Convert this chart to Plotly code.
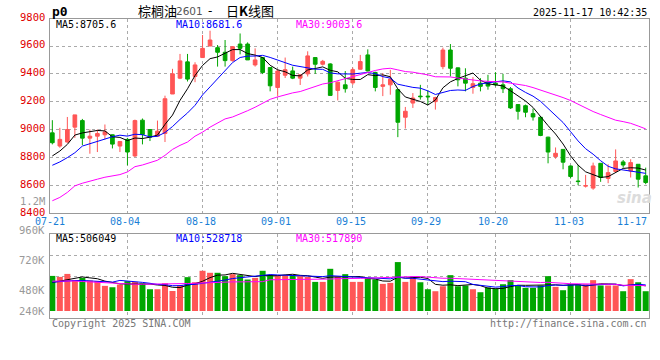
import plotly.graph_objects as go

# ---------------- data ----------------
dates = ["07-21", "07-22", "07-23", "07-24", "07-25", "07-28", "07-29", "07-30", "07-31",
         "08-01", "08-04", "08-05", "08-06", "08-07", "08-08", "08-11", "08-12", "08-13", "08-14", "08-15",
         "08-18", "08-19", "08-20", "08-21", "08-22", "08-25", "08-26", "08-27", "08-28", "08-29",
         "09-01", "09-02", "09-03", "09-04", "09-05", "09-08", "09-09", "09-10", "09-11", "09-12",
         "09-15", "09-16", "09-17", "09-18", "09-19", "09-22", "09-23", "09-24", "09-25", "09-26",
         "09-29", "09-30", "10-09", "10-10", "10-13", "10-14", "10-15", "10-16", "10-17",
         "10-20", "10-21", "10-22", "10-23", "10-24", "10-27", "10-28", "10-29", "10-30", "10-31",
         "11-03", "11-04", "11-05", "11-06", "11-07", "11-10", "11-11", "11-12", "11-13", "11-14", "11-17"]

opens = [8976, 8881, 8910, 9017, 9064, 8938, 8952, 8962, 8962, 8881,
         8929, 8810, 9067, 9000, 8952, 8971, 9255, 9369, 9486, 9381,
         9517, 9600, 9588, 9555, 9495, 9614, 9614, 9464, 9517, 9445,
         9302, 9390, 9421, 9369, 9400, 9517, 9469, 9471, 9281, 9321,
         9335, 9433, 9536, 9410, 9310, 9321, 9286, 9088, 9190, 9240,
         9240, 9200, 9452, 9571, 9443, 9369, 9302, 9333, 9340,
         9333, 9321, 9293, 9179, 9171, 9114, 9088, 8945, 8805, 8857,
         8738, 8630, 8593, 8579, 8757, 8648, 8698, 8767, 8702, 8750, 8667]
highs = [9067, 9012, 9090, 9105, 9076, 9000, 9000, 9036, 8964, 8914,
         8940, 9071, 9079, 9000, 9064, 9243, 9436, 9543, 9543, 9483,
         9679, 9710, 9607, 9643, 9600, 9690, 9626, 9583, 9517, 9445,
         9433, 9517, 9452, 9398, 9562, 9517, 9500, 9476, 9345, 9420,
         9445, 9536, 9576, 9415, 9405, 9429, 9290, 9162, 9262, 9321,
         9281, 9235, 9588, 9614, 9445, 9440, 9376, 9369, 9393,
         9412, 9400, 9305, 9179, 9179, 9150, 9088, 8948, 8871, 8857,
         8740, 8745, 8674, 8762, 8757, 8750, 8857, 8781, 8786, 8750, 8726]
lows = [8893, 8869, 8905, 8940, 8888, 8826, 8838, 8929, 8864, 8838,
        8743, 8802, 8893, 8917, 8948, 8910, 9255, 9362, 9345, 9340,
        9517, 9600, 9452, 9452, 9488, 9540, 9500, 9452, 9398, 9274,
        9238, 9370, 9362, 9320, 9381, 9400, 9460, 9245, 9209, 9265,
        9320, 9430, 9417, 9274, 9240, 9250, 8945, 9007, 9155, 9215,
        9180, 9143, 9433, 9381, 9310, 9274, 9257, 9274, 9286,
        9310, 9262, 9148, 9071, 9088, 9064, 8952, 8757, 8790, 8714,
        8648, 8600, 8583, 8567, 8624, 8614, 8698, 8726, 8655, 8583, 8607]
closes = [8905, 8929, 9000, 9105, 8938, 8952, 8971, 8983, 8895, 8914,
          8838, 9064, 8964, 8945, 8988, 9221, 9400, 9493, 9362, 9464,
          9583, 9643, 9555, 9495, 9595, 9583, 9500, 9500, 9410, 9314,
          9420, 9430, 9369, 9393, 9529, 9469, 9490, 9245, 9340, 9293,
          9430, 9488, 9421, 9302, 9321, 9362, 9052, 9131, 9226, 9236,
          9235, 9230, 9571, 9440, 9357, 9333, 9329, 9310, 9312,
          9321, 9293, 9155, 9131, 9124, 9090, 8957, 8838, 8829, 8765,
          8662, 8626, 8597, 8738, 8655, 8690, 8774, 8745, 8762, 8643, 8619]
volumes = [595000, 587000, 611000, 561000, 579000, 558000, 553000, 515000, 504000, 526000,
           553000, 547000, 534000, 488000, 488000, 536000, 474000, 520000, 585000, 544000,
           636000, 620000, 620000, 593000, 609000, 601000, 566000, 579000, 636000, 601000,
           601000, 601000, 601000, 593000, 587000, 547000, 547000, 652000, 593000, 609000,
           547000, 547000, 579000, 566000, 531000, 539000, 706000, 547000, 585000, 544000,
           488000, 472000, 512000, 601000, 512000, 518000, 488000, 464000, 502000,
           491000, 528000, 561000, 518000, 499000, 499000, 518000, 593000, 507000, 480000,
           526000, 526000, 528000, 561000, 518000, 518000, 518000, 472000, 569000, 544000, 472000]

# moving-average values before enough in-window history exists
ma5_head = [8810, 8845, 8893, 8960]
ma10_head = [8743, 8767, 8798, 8833, 8881, 8898, 8917, 8929, 8948]
ma30_head = [8488, 8512, 8548, 8595, 8614, 8631, 8643, 8657, 8667, 8676,
             8695, 8733, 8745, 8762, 8779, 8814, 8857, 8886, 8910, 8952,
             8981, 9017, 9048, 9076, 9090, 9110, 9135, 9160, 9190]
vma5_head = [542000, 553000, 569000, 574000]
vma10_head = [545000, 550000, 555000, 558000, 558000, 556000, 553000, 548000, 545000]
vma30_head = [553000, 555000, 558000, 554000, 550000, 547000, 542000, 536000, 534000, 532000,
              529000, 528000, 528000, 528000, 528000, 528000, 529000, 531000, 534000, 536000,
              539000, 542000, 545000, 546000, 547000, 547000, 547000, 547000, 549000]

price_ticks = [8400, 8600, 8800, 9000, 9200, 9400, 9600, 9800]
vol_ticks = [1200000, 960000, 720000, 480000, 240000]
vol_tick_text = ["1.2M", "960K", "720K", "480K", "240K"]
date_ticks = ["07-21", "08-04", "08-18", "09-01", "09-15", "09-29", "10-20", "11-03", "11-17"]

ma_labels = ["MA5:8705.6", "MA10:8681.6", "MA30:9003.6"]
vma_labels = ["MA5:506049", "MA10:528718", "MA30:517890"]

# ---------------- helpers ----------------
def rolling(vals, n, head):
    out = list(head)
    for i in range(len(head), len(vals)):
        w = vals[i - n + 1:i + 1]
        out.append(sum(w) / n)
    return out

ma5 = rolling(closes, 5, ma5_head)
ma10 = rolling(closes, 10, ma10_head)
ma30 = rolling(closes, 30, ma30_head)
vma5 = rolling(volumes, 5, vma5_head)
vma10 = rolling(volumes, 10, vma10_head)
vma30 = rolling(volumes, 30, vma30_head)

RED = "#FF5656"
GREEN = "#00A600"
MONO = "DejaVu Sans Mono"
W, H = 660, 360
ML, MR, MT, MB = 50, 11, 19, 42
PW, PH = W - ML - MR, H - MT - MB


def px(x, y):
    return (x - ML) / PW, (H - MB - y) / PH

VOL_BASE = 313000
VOL_RANGE = [257000, 929000]
PRICE_RANGE = [8400, 9794]
X_RANGE = [-0.31, len(dates) - 1 + 0.44]

y_split = (H - MB - 213) / PH
v_top = (H - MB - 234.3) / PH
PRICE_DOMAIN = [y_split, 1]
VOL_DOMAIN = [0, v_top]


def to_paper(v, rng, dom):
    return dom[0] + (v - rng[0]) / (rng[1] - rng[0]) * (dom[1] - dom[0])

fig = go.Figure()
fig.add_trace(go.Candlestick(
    x=dates, open=opens, high=highs, low=lows, close=closes,
    increasing=dict(line=dict(color=RED, width=1), fillcolor=RED),
    decreasing=dict(line=dict(color=GREEN, width=1), fillcolor=GREEN),
    whiskerwidth=0, hoverinfo="skip", xaxis="x", yaxis="y", showlegend=False))
for vals, col in [(ma5, "black"), (ma10, "#0000FF"), (ma30, "#FF00FF")]:
    fig.add_trace(go.Scatter(x=dates, y=vals, mode="lines", line=dict(color=col, width=1),
                             hoverinfo="skip", xaxis="x", yaxis="y", showlegend=False))

bar_colors = [RED if c >= o else GREEN for o, c in zip(opens, closes)]
fig.add_trace(go.Bar(x=dates, y=[v - VOL_BASE for v in volumes], base=VOL_BASE,
                     marker=dict(color=bar_colors, line=dict(width=0)), width=0.8,
                     hoverinfo="skip", xaxis="x2", yaxis="y2", showlegend=False))
for vals, col in [(vma5, "black"), (vma10, "#0000FF"), (vma30, "#FF00FF")]:
    fig.add_trace(go.Scatter(x=dates, y=vals, mode="lines", line=dict(color=col, width=1),
                             hoverinfo="skip", xaxis="x2", yaxis="y2", showlegend=False))

grid_dates = date_ticks[1:-1]
axis_common = dict(showline=True, linecolor="#999999", linewidth=1, mirror=True,
                   showgrid=True, gridcolor="#AAAAAA", gridwidth=1, griddash="dot",
                   zeroline=False, ticks="", showticklabels=False, fixedrange=True)

vol_grid = [VOL_RANGE[0] + (VOL_RANGE[1] - VOL_RANGE[0]) * k / 4 for k in (1, 2, 3)]

fig.update_layout(
    width=W, height=H, margin=dict(l=ML, r=MR, t=MT, b=MB),
    paper_bgcolor="white", plot_bgcolor="white", boxgap=0.3,
    xaxis=dict(domain=[0, 1], anchor="y", type="category", range=X_RANGE,
               tickvals=grid_dates, rangeslider=dict(visible=False), **axis_common),
    yaxis=dict(domain=PRICE_DOMAIN, anchor="x", range=PRICE_RANGE,
               tickvals=price_ticks, **axis_common),
    xaxis2=dict(domain=[0, 1], anchor="y2", type="category", range=X_RANGE,
                tickvals=grid_dates, matches="x", **axis_common),
    yaxis2=dict(domain=VOL_DOMAIN, anchor="x2", range=VOL_RANGE,
                tickvals=vol_grid, **axis_common),
    showlegend=False, bargap=0.2,
)

ann = []

def text_px(x, y, t, color="black", size=10, anchor="left", family=MONO, **kw):
    xp, yp = px(x, y)
    ann.append(dict(x=xp, y=yp, xref="paper", yref="paper", text=t, showarrow=False,
                    xanchor=anchor, yanchor="middle", font=dict(family=family, size=size, color=color), **kw))

# header
text_px(50, 11, "<b>p0</b>", size=13)
text_px(157.5, 10.5, "棕榈油", size=13, family="Noto Sans CJK SC", anchor="center")
text_px(189, 11.5, "2601", size=10.5, color="#555555", family="DejaVu Sans", anchor="center")
text_px(210, 11, "-", size=12, family="DejaVu Sans", anchor="center")
text_px(250, 10.5, "日<b>K</b>线图", size=13, family="Noto Sans CJK SC", anchor="center")
text_px(649, 12, "2025-11-17 10:42:35", size=10, anchor="right")

# MA labels
for lbl, xx, col in zip(ma_labels, [54, 174, 294], ["black", "#0000FF", "#FF00FF"]):
    text_px(xx, 24.5, lbl, color=col, size=10)
for lbl, xx, col in zip(vma_labels, [54, 174, 294], ["black", "#0000FF", "#FF00FF"]):
    text_px(xx, 238.5, lbl, color=col, size=10)

# price axis labels
for v in price_ticks:
    ann.append(dict(x=0, y=to_paper(v, PRICE_RANGE, PRICE_DOMAIN), xref="paper", yref="paper",
                    text=str(v), showarrow=False, xanchor="right", yanchor="middle",
                    xshift=-3, yshift=1.5, font=dict(family=MONO, size=10.5, color="#E00000")))
# volume axis labels
for v, t in zip(vol_ticks, vol_tick_text):
    shift = 9.5 if v == vol_ticks[-1] else 0
    ann.append(dict(x=0, y=to_paper(v, VOL_RANGE, VOL_DOMAIN), xref="paper", yref="paper",
                    text=t, showarrow=False, xanchor="right", yanchor="middle",
                    xshift=-3, yshift=shift, font=dict(family=MONO, size=10.5, color="#999999")))
# date labels
yp_dates = px(0, 221.7)[1]
for i, d in enumerate(date_ticks):
    if i == len(date_ticks) - 1:
        ann.append(dict(x=1, y=yp_dates, xref="paper", yref="paper", text=d, showarrow=False,
                        xanchor="right", yanchor="middle",
                        font=dict(family=MONO, size=10, color="#1A7FD6")))
    else:
        ann.append(dict(x=d, y=yp_dates, xref="x", yref="paper", text=d, showarrow=False,
                        xanchor="center", yanchor="middle", xshift=-2,
                        font=dict(family=MONO, size=10, color="#1A7FD6")))

# footer
text_px(50, 323.6, "Copyright 2025 SINA.COM", color="#777777", size=10)
text_px(649, 323.6, "http://finance.sina.com.cn", color="#777777", size=10, anchor="right")
# watermark
text_px(634, 198, "<i><b>sina</b></i>", color="#DCDCDC", size=15, anchor="center", family="DejaVu Sans")

fig.update_layout(annotations=ann)
fig.write_html("out.html", config={"displayModeBar": False, "staticPlot": True},
               post_script="document.body.style.margin='0px';document.body.style.overflow='hidden';")
